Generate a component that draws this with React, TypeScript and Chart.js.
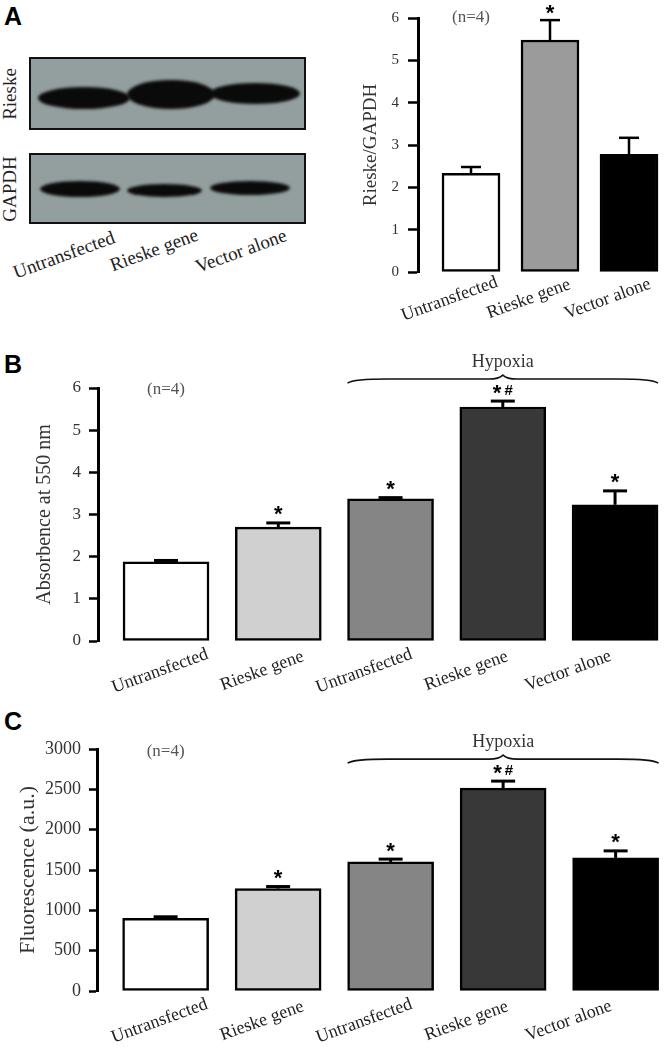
import React, { useEffect, useRef } from "react";
import { Chart, registerables } from "chart.js";

Chart.register(...registerables);

const SERIF = '"Liberation Serif", "Times New Roman", serif';
const SANS = '"Liberation Sans", Arial, sans-serif';

// ---------- Data ----------
const A_CATEGORIES = ["Untransfected", "Rieske gene", "Vector alone"];
const A_MEANS = [2.33, 5.48, 2.78];
const A_ERRORS = [0.15, 0.47, 0.39];
const A_MARKS = ["", "*", ""];
const A_COLORS = ["#ffffff", "#9b9b9b", "#000000"];
const A_TICKS = [0, 1, 2, 3, 4, 5, 6];
const A_TITLE = "Rieske/GAPDH";

const BC_CATEGORIES = ["Untransfected", "Rieske gene", "Untransfected", "Rieske gene", "Vector alone"];
const BC_COLORS = ["#ffffff", "#d0d0d0", "#858585", "#383838", "#000000"];
const BC_MARKS = ["", "*", "*", "*#", "*"];
const HYPOXIA_GROUP = [2, 4];
const GROUP_LABEL = "Hypoxia";
const N_NOTE = "(n=4)";

const B_MEANS = [1.88, 2.7, 3.37, 5.55, 3.23];
const B_ERRORS = [0.03, 0.1, 0.03, 0.14, 0.33];
const B_TICKS = [0, 1, 2, 3, 4, 5, 6];
const B_TITLE = "Absorbence at 550 nm";

const C_MEANS = [900, 1270, 1600, 2515, 1650];
const C_ERRORS = [20, 25, 35, 87, 87];
const C_TICKS = [0, 500, 1000, 1500, 2000, 2500, 3000];
const C_TITLE = "Fluorescence (a.u.)";

const BLOT_LANES = ["Untransfected", "Rieske gene", "Vector alone"];
const BLOT_ROWS = ["Rieske", "GAPDH"];

// ---------- Plugin ----------
const decorPlugin = {
  id: "decor",
  afterDatasetsDraw(chart: any, _args: any, opts: any) {
    const { ctx, chartArea, scales } = chart;
    const x = scales.x;
    const y = scales.y;
    const meta = chart.getDatasetMeta(0);
    const ds = chart.data.datasets[0];
    ctx.save();
    let minErrTop = Infinity;
    meta.data.forEach((bar: any, i: number) => {
      const v = ds.data[i].y;
      const e = opts.errors[i];
      const yTop = y.getPixelForValue(v);
      const yErr = y.getPixelForValue(v + e);
      minErrTop = Math.min(minErrTop, yErr);
      ctx.strokeStyle = "#000";
      ctx.lineWidth = opts.errWidth;
      ctx.lineCap = "butt";
      ctx.beginPath();
      ctx.moveTo(bar.x, yTop);
      ctx.lineTo(bar.x, yErr);
      ctx.stroke();
      ctx.beginPath();
      ctx.moveTo(bar.x - opts.cap / 2, yErr);
      ctx.lineTo(bar.x + opts.cap / 2, yErr);
      ctx.stroke();
      const mark = opts.marks[i];
      if (mark) {
        const cy = yErr - opts.markGap;
        ctx.fillStyle = "#000";
        ctx.textAlign = "left";
        ctx.textBaseline = "alphabetic";
        const starFont = `bold ${opts.starSize}px ${SANS}`;
        const hashFont = `bold ${opts.hashSize}px ${SANS}`;
        const parts = mark.split("");
        const ms = parts.map((c: string) => {
          ctx.font = c === "*" ? starFont : hashFont;
          return ctx.measureText(c);
        });
        const gap = 3;
        const total = ms.reduce((a: number, m: any) => a + m.width, 0) + gap * (parts.length - 1);
        let px = bar.x - total / 2;
        parts.forEach((c: string, k: number) => {
          ctx.font = c === "*" ? starFont : hashFont;
          const m = ms[k];
          const base =
            cy + (m.actualBoundingBoxAscent - m.actualBoundingBoxDescent) / 2 + (c === "*" ? 0 : opts.hashDy);
          ctx.fillText(c, px, base);
          px += m.width + gap;
        });
      }
    });

    // category labels
    ctx.fillStyle = "#222";
    ctx.font = `${opts.labelSize}px ${SERIF}`;
    ctx.textAlign = "center";
    ctx.textBaseline = "middle";
    opts.labels.forEach((lab: string, i: number) => {
      const px = x.getPixelForValue(i * opts.labelSpread + opts.labelShift);
      const py = chartArea.bottom + opts.labelDy;
      ctx.save();
      ctx.translate(px, py);
      ctx.rotate((-opts.labelAngle * Math.PI) / 180);
      ctx.fillText(lab, 0, 0);
      ctx.restore();
    });

    // note
    if (opts.note) {
      ctx.fillStyle = "#555";
      ctx.font = `${opts.noteSize}px ${SERIF}`;
      ctx.textAlign = "center";
      ctx.textBaseline = "middle";
      ctx.fillText(opts.note, meta.data[0].x, chartArea.top + opts.noteDy);
    }

    // brace
    if (opts.group) {
      const b0 = meta.data[opts.group[0]];
      const b1 = meta.data[opts.group[1]];
      const left = b0.x - b0.width / 2;
      const right = b1.x + b1.width / 2;
      const mid = (left + right) / 2;
      const by = minErrTop - opts.braceGap;
      ctx.strokeStyle = "#111";
      ctx.lineWidth = 1.6;
      ctx.beginPath();
      ctx.moveTo(left, by + 4);
      ctx.quadraticCurveTo(left + 6, by, left + 40, by);
      ctx.lineTo(mid - 14, by);
      ctx.quadraticCurveTo(mid - 4, by, mid, by - 4);
      ctx.quadraticCurveTo(mid + 4, by, mid + 14, by);
      ctx.lineTo(right - 40, by);
      ctx.quadraticCurveTo(right - 6, by, right, by + 4);
      ctx.stroke();
      ctx.fillStyle = "#333";
      ctx.font = `${opts.groupSize}px ${SERIF}`;
      ctx.textAlign = "center";
      ctx.textBaseline = "middle";
      ctx.fillText(opts.groupLabel, mid, by - opts.groupDy);
    }
    ctx.restore();
  },
};

function makeConfig(p: any): any {
  return {
    type: "bar",
    data: {
      datasets: [
        {
          data: p.means.map((v: number, i: number) => ({ x: i, y: v })),
          backgroundColor: p.colors,
          borderColor: "#000",
          borderWidth: p.borderWidth,
          borderSkipped: false,
          barThickness: p.barThickness,
        },
      ],
    },
    options: {
      responsive: false,
      animation: false,
      devicePixelRatio: 1,
      layout: { padding: p.padding },
      plugins: {
        legend: { display: false },
        tooltip: { enabled: false },
        decor: p.decor,
      },
      scales: {
        x: { type: "linear", display: false, min: p.xMin, max: p.xMax, offset: false },
        y: {
          type: "linear",
          min: p.ticks[0],
          max: p.ticks[p.ticks.length - 1],
          afterBuildTicks: (s: any) => {
            s.ticks = p.ticks.map((v: number) => ({ value: v }));
          },
          ticks: {
            font: { family: SERIF, size: p.tickSize },
            color: "#333",
            padding: p.tickPad,
            callback: (v: any) => String(v),
          },
          grid: {
            display: true,
            drawOnChartArea: false,
            drawTicks: true,
            tickLength: p.tickLen,
            tickWidth: 2.5,
            tickColor: "#000",
            color: "#000",
          },
          border: { display: true, color: "#000", width: 3 },
          title: {
            display: true,
            text: p.title,
            font: { family: SERIF, size: p.titleSize },
            color: "#333",
            padding: { top: p.titlePad, bottom: 0 },
          },
          afterFit: (s: any) => {
            s.width = p.axisWidth;
          },
        },
      },
    },
    plugins: [decorPlugin],
  };
}

function ChartBox({ left, top, width, height, config }: any) {
  const ref = useRef<HTMLCanvasElement>(null);
  useEffect(() => {
    const chart = new Chart(ref.current as HTMLCanvasElement, config());
    return () => chart.destroy();
  }, []);
  return (
    <canvas
      ref={ref}
      width={width}
      height={height}
      style={{ position: "absolute", left, top, width, height }}
    />
  );
}

const configA = () =>
  makeConfig({
    means: A_MEANS,
    colors: A_COLORS,
    borderWidth: 2.5,
    barThickness: 58,
    padding: { left: 0, right: 0, top: 16, bottom: 68 },
    xMin: -0.671,
    xMax: 2.443,
    ticks: A_TICKS,
    tickSize: 15,
    tickPad: 9,
    tickLen: 10,
    title: A_TITLE,
    titleSize: 19,
    titlePad: 30,
    axisWidth: 88,
    decor: {
      errors: A_ERRORS,
      marks: A_MARKS,
      errWidth: 2.5,
      cap: 20,
      markGap: 11,
      starSize: 22,
      hashSize: 15,
      hashDy: 1,
      labels: A_CATEGORIES,
      labelSpread: 1,
      labelShift: -0.27,
      labelDy: 27,
      labelSize: 18,
      labelAngle: 20,
      note: N_NOTE,
      noteSize: 17,
      noteDy: 0,
      group: null,
    },
  });

const bcDecor = (errors: number[], noteDy: number) => ({
  errors,
  marks: BC_MARKS,
  errWidth: 3,
  cap: 24,
  markGap: 12,
  starSize: 22,
  hashSize: 15,
  hashDy: 1,
  labels: BC_CATEGORIES,
  labelSpread: 0.909,
  labelShift: -0.053,
  labelDy: 30,
  labelSize: 18,
  labelAngle: 20,
  note: N_NOTE,
  noteSize: 17,
  noteDy,
  group: HYPOXIA_GROUP,
  groupLabel: GROUP_LABEL,
  groupSize: 18,
  braceGap: 22,
  groupDy: 17,
});

const configB = () =>
  makeConfig({
    means: B_MEANS,
    colors: BC_COLORS,
    borderWidth: 2.5,
    barThickness: 86,
    padding: { left: 0, right: 0, top: 88, bottom: 59 },
    xMin: -0.606,
    xMax: 4.436,
    ticks: B_TICKS,
    tickSize: 17,
    tickPad: 8,
    tickLen: 9,
    title: B_TITLE,
    titleSize: 20,
    titlePad: 33,
    axisWidth: 98,
    decor: bcDecor(B_ERRORS, 2),
  });

const configC = () =>
  makeConfig({
    means: C_MEANS,
    colors: BC_COLORS,
    borderWidth: 2.5,
    barThickness: 86,
    padding: { left: 0, right: 0, top: 49, bottom: 57 },
    xMin: -0.61,
    xMax: 4.43,
    ticks: C_TICKS,
    tickSize: 18,
    tickPad: 8,
    tickLen: 8,
    title: C_TITLE,
    titleSize: 22,
    titlePad: 15,
    axisWidth: 97,
    decor: bcDecor(C_ERRORS, 3),
  });

// ---------- Western blot (image-like panel) ----------
function Band({ l, t, w, h }: any) {
  return (
    <div
      style={{
        position: "absolute",
        left: l,
        top: t,
        width: w,
        height: h,
        background: "#0a0a0a",
        borderRadius: "50%",
        filter: "blur(1.5px)",
      }}
    />
  );
}

function Blot() {
  const box = (top: number, height: number, children: any) => (
    <div
      style={{
        position: "absolute",
        left: 29,
        top,
        width: 277,
        height,
        boxSizing: "border-box",
        border: "2px solid #111",
        background: "#939f9e",
        overflow: "hidden",
      }}
    >
      {children}
    </div>
  );
  const laneLabels = [
    { cx: 64, cy: 255 },
    { cx: 154, cy: 250 },
    { cx: 241, cy: 251 },
  ];
  const rowLabels = [
    { cx: 10, cy: 94 },
    { cx: 10, cy: 189 },
  ];
  return (
    <>
      {box(
        57,
        73,
        <>
          <Band l={7} t={28} w={92} h={22} />
          <Band l={96} t={21} w={88} h={29} />
          <Band l={179} t={24} w={90} h={21} />
        </>
      )}
      {box(
        153,
        71,
        <>
          <Band l={9} t={26} w={80} h={16} />
          <Band l={96} t={29} w={75} h={13} />
          <Band l={179} t={26} w={80} h={14} />
        </>
      )}
      {BLOT_ROWS.map((r, i) => (
        <div
          key={r}
          style={{
            position: "absolute",
            left: rowLabels[i].cx,
            top: rowLabels[i].cy,
            transform: "translate(-50%, -50%) rotate(-90deg)",
            font: `19px ${SERIF}`,
            color: "#222",
            whiteSpace: "nowrap",
            lineHeight: "20px",
          }}
        >
          {r}
        </div>
      ))}
      {BLOT_LANES.map((r, i) => (
        <div
          key={r}
          style={{
            position: "absolute",
            left: laneLabels[i].cx,
            top: laneLabels[i].cy,
            transform: "translate(-50%, -50%) rotate(-20deg)",
            font: `19px ${SERIF}`,
            color: "#222",
            whiteSpace: "nowrap",
            lineHeight: "20px",
          }}
        >
          {r}
        </div>
      ))}
    </>
  );
}

function Letter({ ch, top }: any) {
  return (
    <div
      style={{
        position: "absolute",
        left: 4,
        top,
        font: `bold 25px ${SANS}`,
        lineHeight: "25px",
        color: "#000",
      }}
    >
      {ch}
    </div>
  );
}

export default function App() {
  return (
    <div
      style={{
        position: "absolute",
        left: 0,
        top: 0,
        width: 664,
        height: 1048,
        background: "#fff",
        overflow: "hidden",
      }}
    >
      <Letter ch="A" top={4} />
      <Letter ch="B" top={352} />
      <Letter ch="C" top={709} />
      <Blot />
      <ChartBox left={0} top={300} width={664} height={400} config={configB} />
      <ChartBox left={0} top={700} width={664} height={348} config={configC} />
      <ChartBox left={330} top={0} width={334} height={340} config={configA} />
    </div>
  );
}
